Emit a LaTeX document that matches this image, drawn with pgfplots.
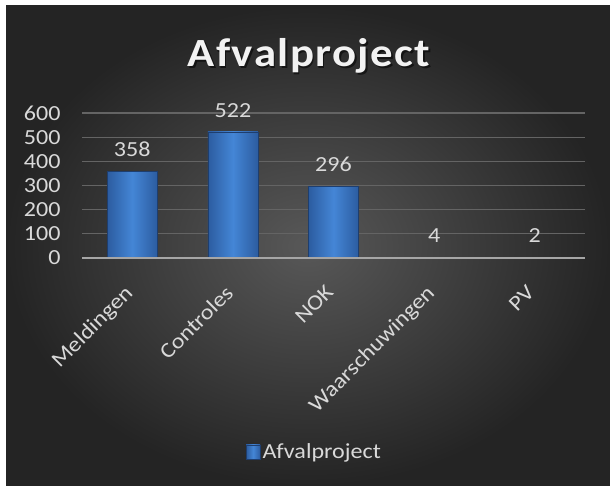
\documentclass[border=0pt]{standalone}
\usepackage{pgfplots}
\pgfplotsset{compat=1.18}
\usepackage{fontspec}
\setmainfont{Carlito}[FakeStretch=1.12]
\definecolor{bgin}{RGB}{88,88,88}
\definecolor{bgout}{RGB}{36,36,36}
\definecolor{txt}{RGB}{217,217,217}
\definecolor{titlec}{RGB}{242,242,242}
\definecolor{gridc}{RGB}{100,100,100}
\definecolor{axc}{RGB}{166,166,166}
\definecolor{barmid}{RGB}{68,134,214}
\definecolor{baredge}{RGB}{44,92,160}
\definecolor{bardraw}{RGB}{30,62,110}
\newcommand{\ttl}{A\kern1.3pt f\kern1.3pt v\kern1.3pt a\kern1.3pt l\kern1.3pt p\kern1.3pt r\kern1.3pt o\kern1.3pt j\kern1.3pt e\kern1.3pt c\kern1.3pt t}
\pgfplotsset{mybar/.style={ybar, bar width=50pt, bar shift=0pt, draw=bardraw, line width=0.6pt, left color=baredge, right color=baredge, middle color=barmid,
  nodes near coords, nodes near coords style={text=txt, font=\fontsize{21.5}{24}\selectfont, anchor=south, yshift=11pt}}}
\begin{document}
\begin{tikzpicture}[x=1pt,y=1pt]
\useasboundingbox (0,0) rectangle (610,486);
\fill[white] (0,0) rectangle (610,486);
\shade[inner color=bgin, outer color=bgout] (6,0) rectangle (610,480);
\node[anchor=base, text=black, opacity=0.55, font=\fontsize{40}{44}\selectfont\bfseries] at (310.5,417.8) {\ttl};
\node[anchor=base, text=titlec, font=\fontsize{40}{44}\selectfont\bfseries] at (309,419.3) {\ttl};
\begin{axis}[
  at={(82pt,228pt)}, anchor=south west,
  width=503pt, height=145pt, scale only axis,
  xmin=-0.5, xmax=4.5, ymin=0, ymax=600,
  ytick={0,100,...,600},
  xtick={0,1,2,3,4},
  xticklabels={Meldingen,Controles,NOK,Waarschuwingen,PV},
  axis line style={draw=none},
  major tick length=0pt,
  ymajorgrids, grid style={gridc, line width=1.2pt},
  /pgf/number format/assume math mode=true,
  tick label style={text=txt, font=\fontsize{21.5}{24}\selectfont},
  yticklabel style={xshift=-18pt},
  xticklabel style={xshift=-9pt, yshift=-21pt, rotate=45, anchor=north east},
  legend style={at={(axis description cs:0.462,-1.338)}, anchor=center, draw=none, fill=none, text=txt, font=\fontsize{21.5}{24}\selectfont},
  legend image code/.code={\fill[left color=baredge, right color=baredge, middle color=barmid, draw=bardraw] (0pt,-7pt) rectangle (14pt,7pt);},
  clip=false,
]
\addplot[mybar] coordinates {(0,358)};
\addlegendentry{Afvalproject}
\addplot[mybar, forget plot] coordinates {(1,522)};
\addplot[mybar, forget plot] coordinates {(2,296)};
\addplot[mybar, forget plot] coordinates {(3,4)};
\addplot[mybar, forget plot] coordinates {(4,2)};
\draw[axc, line width=2pt] (axis cs:-0.5,0) -- (axis cs:4.5,0);
\end{axis}
\end{tikzpicture}
\end{document}
